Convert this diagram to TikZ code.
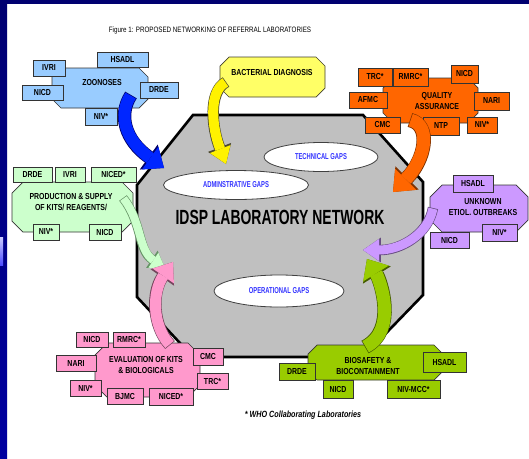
\documentclass[tikz,border=0pt]{standalone}
\usepackage{fontspec}
\setmainfont{Liberation Sans}
\newfontfamily\nf[FakeStretch=0.8]{Liberation Sans}
\newfontfamily\nnf[FakeStretch=0.68]{Liberation Sans}
\usetikzlibrary{arrows.meta,shapes.geometric}
\definecolor{navy}{HTML}{000070}
\definecolor{navyb}{HTML}{0000A0}
\definecolor{maingray}{HTML}{C0C0C0}
\definecolor{gapblue}{HTML}{3333FF}
\definecolor{zoo}{HTML}{99CCFF}
\definecolor{bact}{HTML}{FFFF66}
\definecolor{qa}{HTML}{FF6600}
\definecolor{prod}{HTML}{CCFFCC}
\definecolor{unk}{HTML}{CC99FF}
\definecolor{eval}{HTML}{FF99CC}
\definecolor{bio}{HTML}{99CC00}
\tikzset{
  lab/.style={draw=black!80, line width=0.7pt, inner sep=0pt,
    font=\nf\bfseries\fontsize{8.7}{9}\selectfont},
  clus/.style={draw=black!80, line width=0.7pt},
  ctitle/.style={font=\nf\bfseries\fontsize{8.7}{10.5}\selectfont, align=center, inner sep=0pt},
  gap/.style={ellipse, draw=black!75, line width=0.8pt, fill=white, inner sep=0pt,
    text=gapblue, font=\nnf\bfseries\fontsize{8.6}{9}\selectfont},
}
% box: name, x1, y1, x2, y2, text, colour
\newcommand\bx[7]{\node[lab, fill=#7, minimum width={#4-#2}, minimum height={#5-#3}] (#1) at ({(#2+#4)/2},{(#3+#5)/2}) {#6};}
% chamfered outline: x1,y1,x2,y2,cut,style
\newcommand\octa[6]{\path[#6] ({#1+#5},#2) -- ({#3-#5},#2) -- (#3,{#2+#5}) -- (#3,{#4-#5}) -- ({#3-#5},#4) -- ({#1+#5},#4) -- (#1,{#4-#5}) -- (#1,{#2+#5}) -- cycle;}
% curved block arrow: fill, outline, body width, head length, head width, start, c1, c2, end
\newcommand\carrow[9]{%
  \pgfmathsetmacro\aw{#3+1.4}\pgfmathsetmacro\al{#4+1.8}\pgfmathsetmacro\ah{#5+2.8}%
  \draw[draw=#2, line width=\aw pt, -{Triangle[length=\al pt, width=\ah pt, line width=0pt]}] (#6) .. controls (#7) and (#8) .. (#9);
  \draw[draw=#1, line width=#3pt, shorten <=0.7pt, -{Triangle[length=#4pt, width=#5pt, line width=0pt]}] (#6) .. controls (#7) and (#8) .. (#9);}
\begin{document}
\begin{tikzpicture}[x=1pt,y=-1pt]
\useasboundingbox (0,0) rectangle (529,458);
\fill[white] (0,0) rectangle (529,458);
% slide frame
\fill[navy] (0,0) rectangle (529,4);
\shade[top color=navy, bottom color=navyb] (0,0) rectangle (7,458);
\shade[top color=blue!20, bottom color=blue!70] (0,237) rectangle (3,265);
% title
\node[font=\nf\fontsize{7.8}{8}\selectfont, inner sep=0pt] (title) at (210,30) {Figure 1: PROPOSED NETWORKING OF REFERRAL LABORATORIES};
% main network
\path[fill=maingray, draw=black, line width=2.6pt, line join=miter]
  (193,115) -- (363,115) -- (423,182) -- (423,295) -- (363,357) -- (193,357) -- (137,297) -- (137,185) -- cycle;
\node[font=\nnf\bfseries\fontsize{20.5}{21}\selectfont, inner sep=0pt] (idsp) at (280,217) {IDSP LABORATORY NETWORK};
\node[gap, minimum width=114, minimum height=29] (tech) at (321,157) {TECHNICAL GAPS};
\node[gap, minimum width=145, minimum height=29] (adm) at (236,185) {ADMINSTRATIVE GAPS};
\node[gap, minimum width=130, minimum height=32] (oper) at (279,291) {OPERATIONAL GAPS};
% zoonoses
\octa{52}{68}{148}{108}{9}{clus, fill=zoo}
\node[ctitle] (zoonoses) at (102,83) {ZOONOSES};
\bx{z-ivri}{33}{60}{65}{76}{IVRI}{zoo}
\bx{z-hsadl}{97}{52}{148}{67}{HSADL}{zoo}
\bx{z-nicd}{22}{85}{63}{100}{NICD}{zoo}
\bx{z-drde}{140}{82}{178}{98}{DRDE}{zoo}
\bx{z-niv}{85}{108}{117}{125}{NIV*}{zoo}
% bacterial diagnosis
\octa{220}{57}{325}{97}{9}{draw=black!70!olive, line width=0.7pt, fill=bact}
\node[ctitle] (bactdiag) at (272,73) {BACTERIAL DIAGNOSIS};
% quality assurance
\octa{383}{78}{478}{123}{10}{clus, fill=qa}
\node[ctitle] (qual) at (437,101) {QUALITY\\ASSURANCE};
\bx{qa-trc}{358}{68}{392}{86}{TRC*}{qa}
\bx{qa-rmrc}{393}{68}{428}{86}{RMRC*}{qa}
\bx{qa-nicd}{451}{65}{478}{83}{NICD}{qa}
\bx{qa-afmc}{349}{92}{387}{108}{AFMC}{qa}
\bx{qa-nari}{474}{92}{509}{110}{NARI}{qa}
\bx{qa-cmc}{365}{117}{400}{133}{CMC}{qa}
\bx{qa-ntp}{423}{117}{459}{135}{NTP}{qa}
\bx{qa-niv}{467}{117}{497}{133}{NIV*}{qa}
% production & supply
\octa{12}{182}{133}{232}{11}{clus, fill=prod}
\node[ctitle] (prodsup) at (71,202) {PRODUCTION \& SUPPLY\\OF KITS/ REAGENTS/};
\bx{ps-drde}{13}{167}{52}{182}{DRDE}{prod}
\bx{ps-ivri}{55}{167}{85}{182}{IVRI}{prod}
\bx{ps-niced}{91}{167}{136}{182}{NICED*}{prod}
\bx{ps-niv}{33}{224}{59}{240}{NIV*}{prod}
\bx{ps-nicd}{89}{224}{121}{240}{NICD}{prod}
% unknown etiology outbreaks
\octa{430}{185}{528}{232}{12}{clus, fill=unk}
\node[ctitle] (unknown) at (483,207) {UNKNOWN\\ETIOL. OUTBREAKS};
\bx{ue-hsadl}{453}{175}{493}{192}{HSADL}{unk}
\bx{ue-niv}{482}{224}{517}{241}{NIV*}{unk}
\bx{ue-nicd}{430}{232}{469}{248}{NICD}{unk}
% evaluation of kits
\octa{95}{343}{200}{397}{12}{clus, fill=eval}
\node[ctitle] (evalkits) at (146,365) {EVALUATION OF KITS\\\& BIOLOGICALS};
\bx{ev-nicd}{76}{332}{108}{347}{NICD}{eval}
\bx{ev-rmrc}{113}{332}{145}{347}{RMRC*}{eval}
\bx{ev-nari}{56}{355}{96}{371}{NARI}{eval}
\bx{ev-cmc}{193}{348}{223}{365}{CMC}{eval}
\bx{ev-trc}{197}{373}{228}{389}{TRC*}{eval}
\bx{ev-niv}{70}{380}{101}{396}{NIV*}{eval}
\bx{ev-bjmc}{107}{388}{143}{404}{BJMC}{eval}
\bx{ev-niced}{149}{388}{193}{405}{NICED*}{eval}
% biosafety
\octa{308}{345}{443}{380}{9}{clus, fill=bio}
\node[ctitle] (biosafety) at (368,366) {BIOSAFETY \&\\BIOCONTAINMENT};
\bx{bs-drde}{279}{363}{315}{380}{DRDE}{bio}
\bx{bs-hsadl}{423}{352}{466}{372}{HSADL}{bio}
\bx{bs-nicd}{323}{380}{353}{398}{NICD}{bio}
\bx{bs-niv}{387}{380}{440}{398}{NIV-MCC*}{bio}
% arrow end points
\coordinate (zA) at (131,95);   \coordinate (zB) at (164,168);
\coordinate (bA) at (226,82);   \coordinate (bB) at (226,164);
\coordinate (qA) at (410,120);  \coordinate (qB) at (393,192);
\coordinate (pA) at (123,198);  \coordinate (pB) at (165,268);
\coordinate (uA) at (433,208);  \coordinate (uB) at (363,250);
\coordinate (eA) at (170,345);  \coordinate (eB) at (173,262);
\coordinate (sA) at (365,347);  \coordinate (sB) at (367,259);
% curved arrows
\carrow{blue!85!cyan}{blue!40!black}{12}{17}{28}{zA}{118,115}{125,140}{zB}
\carrow{yellow}{black!60!olive}{10}{16}{22}{bA}{208,92}{212,128}{bB}
\carrow{qa}{qa!50!black}{13}{18}{30}{qA}{432,125}{425,160}{qB}
\carrow{prod}{green!30!black!60}{8}{14}{18}{pA}{142,222}{138,250}{pB}
\carrow{unk}{unk!50!black}{9}{16}{22}{uA}{428,235}{400,250}{uB}
\carrow{eval}{eval!45!black}{11}{17}{26}{eA}{152,325}{152,292}{eB}
\carrow{bio}{bio!45!black}{13}{17}{30}{sA}{398,330}{380,280}{sB}
% footnote
\node[font=\nf\bfseries\itshape\fontsize{9}{9}\selectfont, inner sep=0pt] (foot) at (303,415) {* WHO Collaborating Laboratories};
\end{tikzpicture}
\end{document}
